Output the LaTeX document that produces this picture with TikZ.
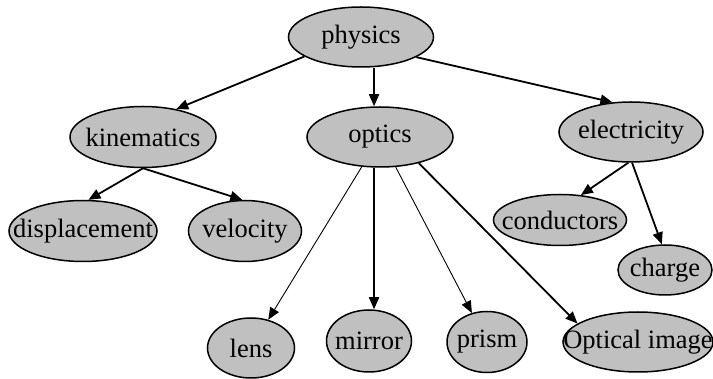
\documentclass[tikz,border=0pt]{standalone}
\usepackage{fontspec}
\setmainfont{Liberation Serif}
\usetikzlibrary{arrows.meta,shapes.geometric}
\definecolor{nodegray}{RGB}{192,192,192}
\newcommand{\topictext}[1]{\makebox[0pt]{#1}}

\begin{document}
\begin{tikzpicture}[
  x=1pt, y=-1pt,
  topic/.style={ellipse, draw=black, line width=1.5pt, fill=nodegray, inner sep=0pt, font=\fontsize{26.5}{30}\selectfont},
  arr/.style={-{Triangle[length=12pt,width=10pt]}, line width=1.8pt, draw=black},
  thinarr/.style={arr, line width=0.9pt}
]
\useasboundingbox (0,0) rectangle (713,379);
\node[topic, minimum width=145pt, minimum height=60pt] (physics) at (361,37) {\topictext{physics}};
\node[topic, minimum width=146pt, minimum height=61pt] (kin) at (143,137) {\topictext{kinematics}};
\node[topic, minimum width=146pt, minimum height=60pt] (optics) at (380,137) {\topictext{optics}};
\node[topic, minimum width=144pt, minimum height=60pt] (elec) at (631,132) {\topictext{electricity}};
\node[topic, minimum width=148pt, minimum height=61pt] (disp) at (83,231) {\topictext{displacement}};
\node[topic, minimum width=113pt, minimum height=61pt] (vel) at (245,231) {\topictext{velocity}};
\node[topic, minimum width=133pt, minimum height=51pt] (cond) at (560,220) {\topictext{conductors}};
\node[topic, minimum width=94pt, minimum height=50pt] (charge) at (665,270) {\topictext{charge}};
\node[topic, minimum width=87pt, minimum height=60pt] (lens) at (251,348) {\topictext{lens}};
\node[topic, minimum width=85pt, minimum height=62pt] (mirror) at (369,341) {\topictext{mirror}};
\node[topic, minimum width=80pt, minimum height=61pt] (prism) at (487,342) {\topictext{prism}};
\node[topic, minimum width=150pt, minimum height=60pt] (oimg) at (638,342) {\topictext{Optical image}};
% physics
\draw[arr] (physics.199) -- (kin.40);
\draw[arr] (physics.-101 -| optics.-101) -- (optics.-101 |- optics.north);
\draw[arr] (physics.-20) -- (elec.122);
% kinematics
\draw[arr] (kin.south) -- (disp.80);
\draw[arr] (kin.south) -- (vel.95);
% optics
\draw[thinarr] (optics) -- (lens);
\draw[arr] (optics.-101) -- (optics.-101 |- mirror.north);
\draw[thinarr] (optics) -- (prism);
\draw[arr] (optics.-34) -- (oimg.163);
% electricity
\draw[arr] (elec.-95) -- (cond.50);
\draw[arr] (elec.-88) -- (charge.97);
\end{tikzpicture}
\end{document}
